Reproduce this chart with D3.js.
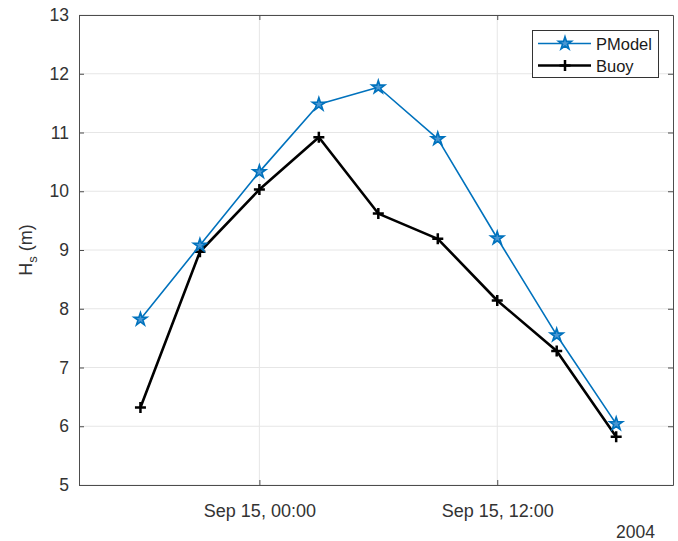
<!DOCTYPE html>
<html>
<head>
<meta charset="utf-8">
<script src="https://cdn.jsdelivr.net/npm/d3@7/dist/d3.min.js"></script>
<style>
  html, body { margin: 0; padding: 0; background: #fff; }
  svg { display: block; font-family: "Liberation Sans", Arial, Helvetica, sans-serif; }
</style>
</head>
<body>
<svg id="chart" width="678" height="541"></svg>
<script>
// Significant wave height, model vs buoy, every 3 hours (UTC)
const times = [
  "2004-09-14T18:00Z", "2004-09-14T21:00Z", "2004-09-15T00:00Z",
  "2004-09-15T03:00Z", "2004-09-15T06:00Z", "2004-09-15T09:00Z",
  "2004-09-15T12:00Z", "2004-09-15T15:00Z", "2004-09-15T18:00Z"
];
const pmodel = [7.82, 9.08, 10.33, 11.48, 11.77, 10.89, 9.20, 7.55, 6.04];
const buoy   = [6.32, 8.97, 10.03, 10.92, 9.62, 9.19, 8.14, 7.28, 5.82];

const xTickTimes = ["2004-09-15T00:00Z", "2004-09-15T12:00Z"];
const yTicks = [5, 6, 7, 8, 9, 10, 11, 12, 13];
const xDomain = ["2004-09-14T14:54Z", "2004-09-15T20:52Z"];
const yDomain = [5, 13];
const seriesNames = ["PModel", "Buoy"];
const yearLabel = "2004";

const svg = d3.select("#chart");
const plotL = 79, plotR = 673, plotT = 15, plotB = 485;
const axisColor = "#4d4d4d", textColor = "#333333", gridColor = "#e6e6e6";
const blue = "#0072BD";

const x = d3.scaleUtc().domain(xDomain.map(d => new Date(d))).range([plotL, plotR]);
const y = d3.scaleLinear().domain(yDomain).range([plotB, plotT]);
const xt = xTickTimes.map(d => new Date(d));
const fmt = d3.utcFormat("%b %d, %H:%M");

// grid
const grid = svg.append("g");
grid.selectAll(".gy").data(yTicks).join("line")
  .attr("x1", plotL).attr("x2", plotR)
  .attr("y1", d => y(d)).attr("y2", d => y(d))
  .attr("stroke", gridColor).attr("stroke-width", 1);
grid.selectAll(".gx").data(xt).join("line")
  .attr("x1", d => x(d)).attr("x2", d => x(d))
  .attr("y1", plotT).attr("y2", plotB)
  .attr("stroke", gridColor).attr("stroke-width", 1);

// axes (ticks point inward)
function styleAxis(size) {
  return g => {
    g.select(".domain").attr("stroke", axisColor);
    g.selectAll(".tick line").attr("stroke", axisColor);
    g.selectAll(".tick text").attr("fill", textColor).attr("font-size", size)
      .attr("font-family", "Liberation Sans, Arial, sans-serif");
  };
}
svg.append("g").attr("transform", `translate(${plotL},0)`)
  .call(d3.axisLeft(y).tickValues(yTicks).tickSize(-5).tickPadding(10).tickSizeOuter(0).tickFormat(d3.format("d")))
  .call(styleAxis(17.5));
svg.append("g").attr("transform", `translate(${plotR},0)`)
  .call(d3.axisRight(y).tickValues(yTicks).tickSize(-5).tickSizeOuter(0).tickFormat(""))
  .call(styleAxis(17.5));
svg.append("g").attr("transform", `translate(0,${plotB})`)
  .call(d3.axisBottom(x).tickValues(xt).tickSize(-5).tickPadding(19).tickSizeOuter(0).tickFormat(fmt))
  .call(styleAxis(18));
svg.append("g").attr("transform", `translate(0,${plotT})`)
  .call(d3.axisTop(x).tickValues(xt).tickSize(-5).tickSizeOuter(0).tickFormat(""))
  .call(styleAxis(18));

// year label
svg.append("text").attr("x", 655).attr("y", 538).attr("text-anchor", "end")
  .attr("font-size", 17.5).attr("fill", textColor).text(yearLabel);

// y axis title: H_s (m)
const yl = svg.append("text").attr("transform", `translate(32,${(plotT + plotB) / 2}) rotate(-90)`)
  .attr("text-anchor", "middle").attr("font-size", 18).attr("fill", textColor);
yl.append("tspan").text("H");
yl.append("tspan").attr("dy", 5).attr("font-size", 13).text("s");
yl.append("tspan").attr("dy", -5).text(" (m)");

// series
const line = d3.line().x(d => x(d.t)).y(d => y(d.v));
const pm = times.map((t, i) => ({ t: new Date(t), v: pmodel[i] }));
const bu = times.map((t, i) => ({ t: new Date(t), v: buoy[i] }));

const star = d3.symbol().type(d3.symbolStar).size(52)();
const plus = "M-5.5,0H5.5M0,-5.5V5.5";

svg.append("path").datum(bu).attr("d", line)
  .attr("fill", "none").attr("stroke", "#000").attr("stroke-width", 2.6).attr("stroke-linejoin", "round");
svg.selectAll(".pb").data(bu).join("path")
  .attr("transform", d => `translate(${x(d.t)},${y(d.v)})`)
  .attr("d", plus).attr("stroke", "#000").attr("stroke-width", 2.5).attr("fill", "none");

svg.append("path").datum(pm).attr("d", line)
  .attr("fill", "none").attr("stroke", blue).attr("stroke-width", 1.6).attr("stroke-linejoin", "round");
svg.selectAll(".ps").data(pm).join("path")
  .attr("transform", d => `translate(${x(d.t)},${y(d.v)})`)
  .attr("d", star).attr("stroke", blue).attr("stroke-width", 1.6).attr("fill", "#4a97d3").attr("stroke-linejoin", "miter");

// legend
const lg = svg.append("g");
lg.append("rect").attr("x", 532.5).attr("y", 30.5).attr("width", 126).attr("height", 47)
  .attr("fill", "#fff").attr("stroke", "#333").attr("stroke-width", 1);
const legendItems = [
  { name: seriesNames[0], color: blue, width: 1.6, marker: star, fill: "#4a97d3", mw: 1.6 },
  { name: seriesNames[1], color: "#000", width: 2.6, marker: plus, fill: "none", mw: 2.5 }
];
legendItems.forEach((it, i) => {
  const cy = 43.5 + i * 22;
  lg.append("line").attr("x1", 538).attr("x2", 591).attr("y1", cy).attr("y2", cy)
    .attr("stroke", it.color).attr("stroke-width", it.width);
  lg.append("path").attr("transform", `translate(565,${cy})`).attr("d", it.marker)
    .attr("stroke", it.color).attr("stroke-width", it.mw).attr("fill", it.fill);
  lg.append("text").attr("x", 596).attr("y", cy + 6).attr("font-size", 16.5)
    .attr("fill", "#1a1a1a").text(it.name);
});
</script>
</body>
</html>
